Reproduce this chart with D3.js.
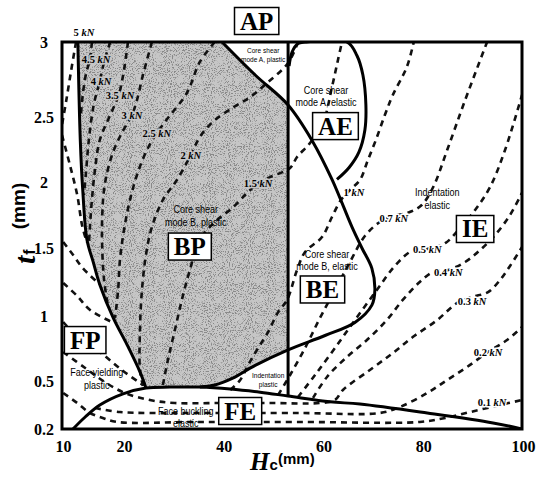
<!DOCTYPE html>
<html>
<head>
<meta charset="utf-8">
<script src="https://cdn.jsdelivr.net/npm/d3@7"></script>
<style>
  body { margin: 0; background: #fff; }
  svg { display: block; }
</style>
</head>
<body>
<svg id="chart" width="536" height="477"></svg>
<script>
// ---- axis ticks ----
const hTicks = [10, 20, 40, 60, 80, 100];          // core thickness Hc (mm)
const tTicks = [0.2, 0.5, 1, 1.5, 2, 2.5, 3];      // face thickness tf (mm)

// ---- failure-mode boundaries, [Hc, tf] ----
const yieldBoundary = [[12.6,3],[13.0,2.32],[13.4,1.94],[14.1,1.56],[15.1,1.40],[16.2,1.23],[18.4,0.985],[20.8,0.78],[23.4,0.57],[24.6,0.456]];
const bucklingBoundary = [[11.8,0.2],[13.8,0.275],[16.2,0.35],[20,0.42],[24.6,0.456],[29.4,0.462],[35.4,0.462],[41.5,0.45],[47.5,0.43],[53.1,0.406],[61.5,0.37],[67.5,0.356],[81,0.3],[94.2,0.238],[100,0.2]];
const coreShearBoundary = [[39.85,3],[46.5,2.78],[53.1,2.58],[57.9,2.32],[61.9,2.02],[65.9,1.66],[67.9,1.5],[69.9,1.35],[70.5,1.19],[69.9,1.08],[66.5,0.95],[60.5,0.85],[53.1,0.74],[46.5,0.62],[41.9,0.52],[38.4,0.475],[35.4,0.462]];
const plasticLimitH = 53.1;                          // vertical plastic / elastic core limit
const modeABoundary = [[53.3,2.84],[53.9,2.933],[55.1,2.99],[56.5,3],[64.9,3],[66.9,2.91],[68.1,2.78],[68.7,2.58],[68.5,2.4],[67.3,2.23],[65.3,2.11],[62.9,2.02]];

// ---- load contours (kN), [Hc, tf] ----
const load5   = [[12.3,3],[11.5,2.81],[10.7,2.61],[10,2.44]];
const load4_5 = [[14.9,3],[14.6,2.893],[13.9,2.78],[13.4,2.647],[13.1,2.513]];
const load4   = [[17.9,3],[16.9,2.867],[16.2,2.74],[15.2,2.58],[14.4,2.323],[13.9,2.054],[13.6,1.902]];
const load3_5 = [[21.0,3],[20.2,2.813],[19.3,2.647],[17.9,2.513],[16.2,2.323],[15.4,2.092],[14.9,1.864],[14.6,1.674],[14.4,1.523]];
const load3   = [[25.8,3],[24.0,2.78],[22.8,2.613],[21.8,2.513],[19.8,2.377],[18.2,2.208],[17.0,1.977],[16.6,1.75],[16.6,1.485],[16.9,1.265],[17.5,1.081]];
const load2_5 = [[38.4,3],[35.4,2.867],[32.8,2.66],[29.0,2.492],[26.8,2.377],[24.8,2.246],[23.0,2.077],[21.4,1.864],[20.2,1.636],[19.5,1.412],[19.2,1.191],[18.7,0.985]];
const load2   = [[55.1,3],[53.1,2.86],[48.9,2.727],[45.5,2.633],[41.9,2.56],[38.0,2.462],[35.4,2.346],[33.6,2.208],[30.8,2.015],[28.0,1.864],[25.8,1.659],[24.6,1.449],[23.8,1.191],[23.4,0.892],[23.4,0.585],[24.0,0.469]];
const load1_5 = [[28.0,0.475],[29.0,0.662],[30.4,0.892],[31.8,1.118],[33.4,1.338],[35.4,1.561],[38.4,1.697],[41.9,1.803],[44.7,1.909],[47.1,1.992],[49.5,2.038],[53.5,2.108],[54.9,2.192],[57.5,2.3],[60.1,2.454],[61.9,2.7],[63.1,2.88],[63.9,3]];
const load1   = [[41.5,0.444],[43.5,0.508],[45.1,0.623],[47.1,0.754],[49.1,0.877],[51.1,1.029],[52.9,1.118],[54.9,1.338],[56.5,1.471],[59.9,1.583],[61.9,1.735],[63.7,1.864],[65.5,1.939],[67.5,2.015],[69.1,2.169],[70.7,2.323],[72.5,2.513],[74.1,2.647],[76.9,2.833],[78.3,3]];
const load0_7 = [[51.1,0.4125],[53.5,0.546],[56.5,0.754],[59.5,0.985],[62.5,1.191],[65.5,1.397],[68.5,1.591],[71.5,1.697],[74.3,1.742],[77.5,1.773],[79.9,1.826],[82.2,1.962],[85.0,2.246],[88.6,2.613],[93.0,3]];
const load0_5 = [[55.1,0.4],[58.5,0.546],[62.5,0.754],[66.5,0.969],[70.9,1.191],[74.5,1.368],[77.9,1.478],[81.0,1.493],[84.6,1.537],[87.6,1.652],[90.6,1.788],[93.6,1.962],[96.6,2.246],[100,2.647]];
const load0_4 = [[58.1,0.394],[60.9,0.531],[64.9,0.685],[68.9,0.815],[72.9,0.969],[76.1,1.118],[79.5,1.25],[82.2,1.324],[85.2,1.338],[88.6,1.397],[91.6,1.485],[94.6,1.598],[97.6,1.75],[100,1.917]];
const load0_3 = [[10.2,0.723],[13.8,0.6],[17.0,0.494],[20.4,0.425],[25.4,0.381],[30.4,0.3625],[39.4,0.3625],[49.5,0.3625],[59.5,0.3625],[62.5,0.381],[64.1,0.444],[69.5,0.585],[74.1,0.715],[78.1,0.838],[83.0,0.969],[87.0,1.096],[90.0,1.14],[93.2,1.176],[95.6,1.265],[97.6,1.368],[100,1.507]];
const load0_2 = [[15.4,0.331],[19.5,0.306],[25.4,0.3],[35.4,0.3],[55.5,0.3],[71.5,0.3],[75.5,0.3375],[81.0,0.425],[85.0,0.508],[89.0,0.608],[93.2,0.723],[97.0,0.815],[100,0.915]];
const load0_1 = [[10.2,0.425],[12.5,0.3625],[14.6,0.3],[16.7,0.269],[19.0,0.244],[35.4,0.244],[55.5,0.244],[79.5,0.244],[84.6,0.269],[89.6,0.306],[95.6,0.35],[100,0.381]];
// face-yielding contours in the thin-core corner
const yieldA = [[10,2.36],[11.3,2.13],[12.5,1.90],[13.3,1.67],[14.1,1.54]];
const yieldB = [[10.2,1.545],[11.8,1.45],[13.4,1.353],[16.1,1.235]];
const yieldC = [[10.2,1.243],[12.5,1.147],[14.6,1.044],[18.5,0.946]];
const yieldD = [[10.2,0.954],[12.6,0.838],[16.2,0.723],[19.8,0.585],[24.0,0.475]];

const contours = [load5, load4_5, load4, load3_5, load3, load2_5, load2, load1_5, load1,
                  load0_7, load0_5, load0_4, load0_3, load0_2, load0_1, yieldA, yieldB, yieldC, yieldD];

// contour labels: value, anchor [Hc, tf], sits in shaded field?
const loadLabels = [
  ["5", [13.6,3.067], false], ["4.5", [15.6,2.887], true], ["4", [16.4,2.74], true], ["3.5", [19.5,2.647], true],
  ["3", [21.8,2.513], true], ["2.5", [26.8,2.377], true], ["2", [33.6,2.208], true], ["1.5", [47.1,1.992], true],
  ["1", [66.3,1.924], false], ["0.7", [74.3,1.727], false], ["0.5", [81.0,1.493], false], ["0.4", [85.2,1.324], false],
  ["0.3", [90.0,1.110], false], ["0.2", [93.2,0.723], false], ["0.1", [94.0,0.369], false]
];

// mode codes and descriptions, anchors [Hc, tf]
const modeCodes = [
  ["AP", [46.8,3.14]], ["AE", [62.6,2.43]], ["BP", [33.4,1.511]], ["FP", [13.8,0.815]],
  ["FE", [43.5,0.3125]], ["BE", [60.0,1.195]], ["IE", [90.6,1.644]]
];
const modeNotes = [
  [["Core shear", "mode A, plastic"], [48.1,2.947], "s"],
  [["Core shear", "mode A, elastic"], [60.7,2.68], "m"],
  [["Core shear", "mode B, plastic"], [34.6,1.795], "m"],
  [["Core shear", "mode B, elastic"], [60.9,1.456], "m"],
  [["Face yielding", "plastic"], [15.7,0.569], "m"],
  [["Face buckling", "elastic"], [32.6,0.3125], "m"],
  [["Indentation", "plastic"], [49.1,0.546], "s"],
  [["Indentation", "elastic"], [83.0,1.924], "m"]
];

// ---------------------------------------------------------------
const svg = d3.select("#chart");
const x = d3.scaleLinear().domain([10, 20, 100]).range([62, 123, 522]);
const y = d3.scaleLinear().domain(tTicks).range([429, 381, 316, 248, 182, 117, 42]);

const serif = "'Liberation Serif','Times New Roman',serif";
const sans = "'Liberation Sans',Arial,sans-serif";
const shadeFill = "#c6c6c6";

const defs = svg.append("defs");
defs.append("clipPath").attr("id", "plot")
  .append("rect").attr("x", x(10)).attr("y", y(3)).attr("width", x(100) - x(10)).attr("height", y(0.2) - y(3));

const f = defs.append("filter").attr("id", "stipple").attr("x", 0).attr("y", 0).attr("width", 1).attr("height", 1);
f.append("feTurbulence").attr("type", "fractalNoise").attr("baseFrequency", 0.95).attr("numOctaves", 2).attr("seed", 5).attr("result", "noise");
f.append("feColorMatrix").attr("in", "noise").attr("type", "matrix")
  .attr("values", "0 0 0 0 0.25  0 0 0 0 0.25  0 0 0 0 0.25  -8 0 0 0 3.75").attr("result", "speck");
f.append("feComposite").attr("in", "speck").attr("in2", "SourceGraphic").attr("operator", "in").attr("result", "dots");
const fm = f.append("feMerge");
fm.append("feMergeNode").attr("in", "SourceGraphic");
fm.append("feMergeNode").attr("in", "dots");

const curve = d3.line().x(d => x(d[0])).y(d => y(d[1])).curve(d3.curveCatmullRom.alpha(0.5));
const join = (pts) => "L" + curve(pts).slice(1);

// ---- shaded plastic core-shear (mode B) field ----
const csIdx = (h, t) => coreShearBoundary.findIndex(p => p[0] === h && p[1] === t);
const bpBottom = bucklingBoundary.filter(p => p[0] >= 24.6 && p[0] <= 35.4);
const bpRight = coreShearBoundary.slice(csIdx(53.1, 0.74)).reverse();
const bpTop = coreShearBoundary.slice(0, csIdx(53.1, 2.58) + 1).reverse();
const shadePath = curve(yieldBoundary) + join(bpBottom) + join(bpRight)
  + "L" + x(plasticLimitH) + "," + y(2.58) + join(bpTop) + "Z";

const plot = svg.append("g").attr("clip-path", "url(#plot)");
plot.append("path").attr("d", shadePath).attr("fill", shadeFill).attr("filter", "url(#stipple)");

// ---- load contours ----
plot.append("g").selectAll("path").data(contours).join("path")
  .attr("d", curve).attr("fill", "none").attr("stroke", "#111")
  .attr("stroke-width", 2.6).attr("stroke-dasharray", "6,5");

// ---- boundaries ----
const solid = plot.append("g").attr("fill", "none").attr("stroke", "#000").attr("stroke-width", 3);
solid.append("path").attr("d", curve(yieldBoundary));
solid.append("path").attr("d", curve(bucklingBoundary));
solid.append("path").attr("d", curve(coreShearBoundary));
solid.append("path").attr("d", curve(modeABoundary));
solid.append("line").attr("x1", x(plasticLimitH)).attr("x2", x(plasticLimitH))
  .attr("y1", y(3)).attr("y2", y(0.406));

// ---- frame ----
svg.append("rect").attr("x", x(10)).attr("y", y(3)).attr("width", x(100) - x(10)).attr("height", y(0.2) - y(3))
  .attr("fill", "none").attr("stroke", "#000").attr("stroke-width", 3);

// ---- axes ----
const gx = svg.append("g").attr("transform", `translate(0,${y(0.2)})`)
  .call(d3.axisBottom(x).tickValues(hTicks).tickSize(0).tickFormat(d => String(d)));
gx.select(".domain").remove();
gx.selectAll("text").attr("y", 23).attr("dy", null).attr("dx", 1)
  .attr("font-family", serif).attr("font-weight", "bold").attr("font-size", 16).attr("fill", "#000");

const gy = svg.append("g").attr("transform", `translate(${x(10)},0)`)
  .call(d3.axisLeft(y).tickValues(tTicks).tickSize(0).tickFormat(d => String(d)));
gy.select(".domain").remove();
gy.selectAll("text").attr("x", -18).attr("text-anchor", "middle").attr("dy", "0.36em")
  .attr("font-family", serif).attr("font-weight", "bold").attr("font-size", 16).attr("fill", "#000");

// axis titles
const xt = svg.append("text").attr("x", 250).attr("y", 470);
xt.append("tspan").text("H").attr("font-family", serif).attr("font-style", "italic").attr("font-weight", "bold").attr("font-size", 25);
xt.append("tspan").text("c").attr("font-family", sans).attr("font-weight", "bold").attr("font-size", 15);
svg.append("text").attr("x", 278).attr("y", 464).text("(mm)")
  .attr("font-family", sans).attr("font-weight", "bold").attr("font-size", 15);

const yt = svg.append("text").attr("transform", "translate(35,264) rotate(-90)");
yt.append("tspan").text("t").attr("font-family", serif).attr("font-style", "italic").attr("font-weight", "bold").attr("font-size", 30);
yt.append("tspan").text("f").attr("dx", 1).attr("font-family", sans).attr("font-weight", "bold").attr("font-size", 16);
svg.append("text").attr("transform", "translate(25,206) rotate(-90)").attr("text-anchor", "middle").text("(mm)")
  .attr("font-family", sans).attr("font-weight", "bold").attr("font-size", 19);

// ---- load labels ----
const ll = svg.append("g").attr("font-family", serif).attr("font-weight", "bold").attr("font-size", 10.5)
  .attr("text-anchor", "middle");
loadLabels.forEach(([v, p, shaded]) => {
  const t = ll.append("text").attr("x", x(p[0])).attr("y", y(p[1])).attr("dy", "0.35em")
    .attr("stroke", shaded ? shadeFill : "#fff").attr("stroke-width", 3).attr("paint-order", "stroke")
    .attr("stroke-linejoin", "round");
  t.append("tspan").text(v + " ");
  t.append("tspan").text("kN").attr("font-style", "italic");
});

// ---- mode descriptions (narrowed sans) ----
const notes = svg.append("g").attr("font-family", sans).attr("text-anchor", "middle").attr("fill", "#000");
modeNotes.forEach(([lines, p, size]) => {
  const fs = size === "s" ? 8 : 11;
  const cx = x(p[0]), cy = y(p[1]);
  const t = notes.append("text").attr("transform", `translate(${cx},${cy}) scale(0.82,1)`).attr("font-size", fs);
  lines.forEach((s, i) => t.append("tspan").attr("x", 0).attr("y", i * fs * 1.15).attr("dy", "0.35em").text(s));
});

// ---- boxed mode codes ----
const codes = svg.append("g");
modeCodes.forEach(([c, p]) => {
  const g = codes.append("g");
  const t = g.append("text").attr("x", x(p[0])).attr("y", y(p[1]) + 8.5).attr("text-anchor", "middle")
    .attr("font-family", serif).attr("font-weight", "bold").attr("font-size", 25).text(c);
  const w = t.node().getComputedTextLength() + 11;
  g.insert("rect", "text").attr("x", x(p[0]) - w / 2).attr("y", y(p[1]) - 13.5).attr("width", w).attr("height", 27)
    .attr("fill", "#fff").attr("stroke", "#000").attr("stroke-width", 1.5);
});
</script>
</body>
</html>
